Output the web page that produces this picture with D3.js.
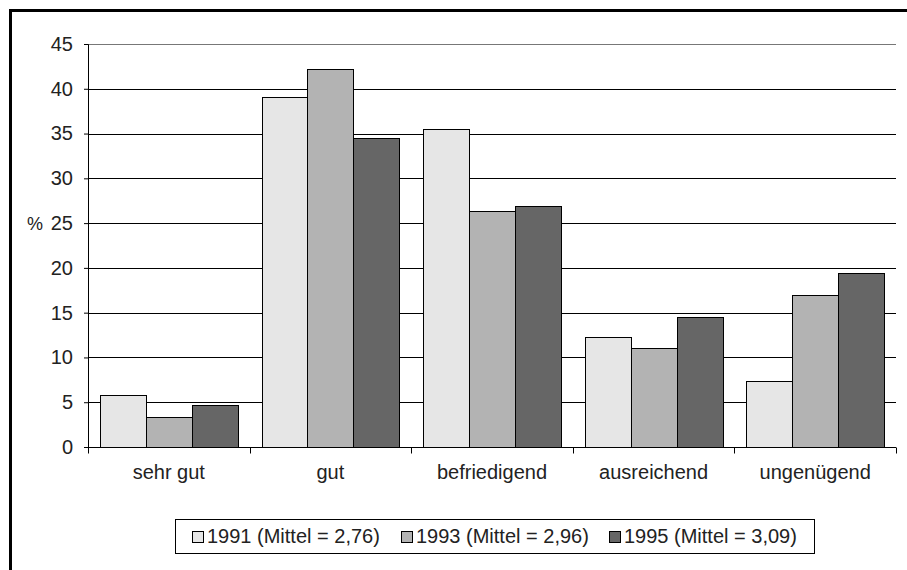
<!DOCTYPE html>
<html>
<head>
<meta charset="utf-8">
<script src="https://cdn.jsdelivr.net/npm/d3@7"></script>
<style>
  body { margin: 0; background: #fff; }
  text { font-family: "Liberation Sans", Arial, sans-serif; }
</style>
</head>
<body>
<div id="chart"></div>
<script>
const categories = ['sehr gut', 'gut', 'befriedigend', 'ausreichend', 'ungenügend']
const seriesNames = ['1991 (Mittel = 2,76)', '1993 (Mittel = 2,96)', '1995 (Mittel = 3,09)']
const values1991 = [5.8, 39.1, 35.5, 12.3, 7.4]
const values1993 = [3.4, 42.2, 26.3, 11.0, 17.0]
const values1995 = [4.7, 34.5, 26.9, 14.5, 19.4]
const yTicks = [0, 5, 10, 15, 20, 25, 30, 35, 40, 45]

const colors = ['#e6e6e6', '#b3b3b3', '#666666']
const allSeries = [values1991, values1993, values1995]

const width = 907
const height = 570
const margin = { top: 44, right: 11, bottom: 123, left: 88 }
const innerW = width - margin.left - margin.right
const innerH = height - margin.top - margin.bottom

const svg = d3.select('#chart')
    .append('svg')
    .attr('width', width)
    .attr('height', height)

// outer frame (cut off at right/bottom like the source)
svg.append('rect')
    .attr('x', 10.5).attr('y', 10.5)
    .attr('width', 1000).attr('height', 1000)
    .attr('fill', 'none')
    .attr('stroke', '#000')
    .attr('stroke-width', 3)

const g = svg.append('g')
    .attr('transform', `translate(${margin.left}, ${margin.top})`)

const x0 = d3.scaleBand()
    .domain(categories)
    .range([0, innerW])
    .padding(0)

const x1 = d3.scaleBand()
    .domain(d3.range(seriesNames.length))
    .range([12, x0.bandwidth() - 12])
    .padding(0)

const y = d3.scaleLinear()
    .domain([0, 45])
    .range([innerH, 0])

// gridlines
g.selectAll('.grid')
    .data(yTicks.filter(t => t > 0))
    .enter().append('line')
    .attr('class', 'grid')
    .attr('x1', 0).attr('x2', innerW)
    .attr('y1', d => Math.round(y(d)) + 0.5)
    .attr('y2', d => Math.round(y(d)) + 0.5)
    .attr('stroke', d => d === 45 ? '#777' : '#000')
    .attr('stroke-width', 1)

// bars
categories.forEach((cat, ci) => {
    g.selectAll('.bar-' + ci)
        .data(allSeries.map((s, si) => ({ si: si, v: s[ci] })))
        .enter().append('rect')
        .attr('x', d => Math.round(x0(cat) + x1(d.si)) + 0.5)
        .attr('y', d => Math.round(y(d.v)) + 0.5)
        .attr('width', Math.round(x1.bandwidth()))
        .attr('height', d => Math.round(innerH) - Math.round(y(d.v)))
        .attr('fill', d => colors[d.si])
        .attr('stroke', '#000')
        .attr('stroke-width', 1)
})

// y axis
const yAxis = g.append('g')
    .call(d3.axisLeft(y).tickValues(yTicks).tickSize(4).tickPadding(11))
yAxis.select('.domain').attr('stroke', '#000')
yAxis.selectAll('text').style('font-size', '20px').attr('fill', '#222')

// x axis
const xAxisG = g.append('g')
    .attr('transform', `translate(0, ${Math.round(innerH) + 0.5})`)
xAxisG.append('line')
    .attr('x1', 0).attr('x2', innerW)
    .attr('stroke', '#000')
xAxisG.selectAll('.xt')
    .data(categories.concat(['end']))
    .enter().append('line')
    .attr('x1', (d, i) => Math.round(i * x0.step()) + 0.5)
    .attr('x2', (d, i) => Math.round(i * x0.step()) + 0.5)
    .attr('y1', 0).attr('y2', 6)
    .attr('stroke', '#000')
xAxisG.selectAll('.xl')
    .data(categories)
    .enter().append('text')
    .attr('x', d => x0(d) + x0.bandwidth() / 2)
    .attr('y', 31)
    .attr('text-anchor', 'middle')
    .attr('fill', '#222')
    .style('font-size', '20px')
    .text(d => d)

// % label
svg.append('text')
    .attr('x', 27).attr('y', margin.top + y(25) + 7)
    .attr('fill', '#222')
    .style('font-size', '18px')
    .text('%')

// legend
svg.append('rect')
    .attr('x', 175.5).attr('y', 519.5)
    .attr('width', 639).attr('height', 34)
    .attr('fill', '#fff')
    .attr('stroke', '#000')
const legendX = [192, 401, 609]
seriesNames.forEach((name, i) => {
    svg.append('rect')
        .attr('x', legendX[i] + 0.5).attr('y', 531.5)
        .attr('width', 11).attr('height', 11)
        .attr('fill', colors[i])
        .attr('stroke', '#000')
    svg.append('text')
        .attr('x', legendX[i] + 15).attr('y', 543)
        .attr('fill', '#222')
        .style('font-size', '20px')
        .text(name)
})
</script>
</body>
</html>
